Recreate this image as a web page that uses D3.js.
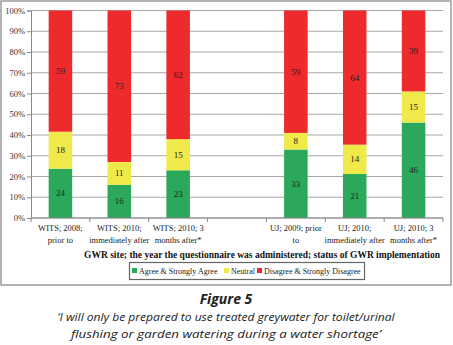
<!DOCTYPE html>
<html><head><meta charset="utf-8">
<script src="https://cdn.jsdelivr.net/npm/d3@7"></script>
<style>body{margin:0;background:#fff}svg{display:block}</style>
</head><body><svg id="c" width="453" height="345"></svg>
<script>
const categories = [
  ["WITS; 2008;", "prior to"],
  ["WITS; 2010;", "immediately after"],
  ["WITS; 2010; 3", "months after*"],
  ["", ""],
  ["UJ; 2009; prior", "to"],
  ["UJ; 2010;", "immediately after"],
  ["UJ; 2010; 3", "months after*"]
];
const agree    = [24, 16, 23, null, 33, 21, 46];
const neutral  = [18, 11, 15, null, 8, 14, 15];
const disagree = [59, 73, 62, null, 59, 64, 39];
const seriesNames = ["Agree & Strongly Agree", "Neutral", "Disagree & Strongly Disagree"];
const colors = ["#2ca85a", "#f0e94a", "#ee2a2d"];
const yTicks = [0,10,20,30,40,50,60,70,80,90,100];

const svg = d3.select("#c");
const serif = "'Liberation Serif','Times New Roman',serif";
const L = 31, R = 443, T = 10.5, B = 218;

svg.append("rect").attr("x",1).attr("y",1).attr("width",450).attr("height",284)
  .attr("fill","none").attr("stroke","#9a9a9a").attr("stroke-width",1.5);

const x = d3.scaleBand().domain(d3.range(categories.length)).range([L,R]).paddingInner(0).paddingOuter(0);
const y = d3.scaleLinear().domain([0,100]).range([B,T]);

// gridlines
svg.append("g").selectAll("line").data(yTicks).join("line")
  .attr("x1",L).attr("x2",R).attr("y1",d=>y(d)).attr("y2",d=>y(d))
  .attr("stroke","#a8a8a8").attr("stroke-width",1.2);

// y axis
const ya = svg.append("g").attr("transform",`translate(${L},0)`)
  .call(d3.axisLeft(y).tickValues(yTicks).tickFormat(d=>d+"%").tickSize(4).tickPadding(2));
ya.select(".domain").attr("stroke","#8a8a8a");
ya.selectAll(".tick line").attr("stroke","#8a8a8a");
ya.selectAll("text").attr("font-family",serif).attr("font-size",8.5).attr("fill","#333");

// stacked bars
const rows = categories.map((c,i)=>({i, agree:agree[i], neutral:neutral[i], disagree:disagree[i]}));
const keys = ["agree","neutral","disagree"];
const stack = d3.stack().keys(keys).offset(d3.stackOffsetExpand)(rows.filter(r=>r.agree!==null));
const bw = x.bandwidth()*0.4;
stack.forEach((s,k)=>{
  const g = svg.append("g");
  g.selectAll("rect").data(s).join("rect")
    .attr("x",d=>x(d.data.i)+x.bandwidth()/2-bw/2).attr("width",bw)
    .attr("y",d=>y(d[1]*100)).attr("height",d=>y(d[0]*100)-y(d[1]*100))
    .attr("fill",colors[k]);
  g.selectAll("text").data(s).join("text")
    .attr("x",d=>x(d.data.i)+x.bandwidth()/2)
    .attr("y",d=>y((d[0]+d[1])/2*100)+3)
    .attr("text-anchor","middle").attr("font-family",serif).attr("font-size",9).attr("fill","#222")
    .text(d=>d.data[keys[k]]);
});

// x axis
svg.append("line").attr("x1",L).attr("x2",R).attr("y1",B).attr("y2",B).attr("stroke","#8a8a8a");
svg.append("g").selectAll("line").data(d3.range(categories.length+1)).join("line")
  .attr("x1",i=>L+i*x.step()).attr("x2",i=>L+i*x.step()).attr("y1",B).attr("y2",B+4)
  .attr("stroke","#8a8a8a");
const cl = svg.append("g");
categories.forEach((c,i)=>{
  c.forEach((line,j)=>{
    cl.append("text").attr("x",x(i)+x.bandwidth()/2).attr("y",231+j*12)
      .attr("text-anchor","middle").attr("font-family",serif).attr("font-size",8.5).attr("fill","#222")
      .text(line);
  });
});

svg.append("text").attr("x",262).attr("y",258).attr("text-anchor","middle")
  .attr("font-family",serif).attr("font-size",9.5).attr("font-weight","bold").attr("fill","#111")
  .text("GWR site; the year the questionnaire was administered; status of GWR implementation");

// legend
svg.append("rect").attr("x",129.5).attr("y",262.5).attr("width",235).attr("height",17)
  .attr("fill","#fff").attr("stroke","#666").attr("stroke-width",1.2);
const legX = [132, 224, 257];
seriesNames.forEach((n,k)=>{
  svg.append("rect").attr("x",legX[k]).attr("y",268).attr("width",5).attr("height",5).attr("fill",colors[k]);
  svg.append("text").attr("x",legX[k]+7).attr("y",273.5).attr("font-family",serif).attr("font-size",8)
    .attr("fill","#222").text(n);
});

// caption
const sans = "'Open Sans','Noto Sans',sans-serif";
svg.append("text").attr("x",226).attr("y",304).attr("text-anchor","middle")
  .attr("font-family",sans).attr("font-size",14).attr("font-style","italic").attr("font-weight","bold")
  .attr("fill","#222").text("Figure 5");
svg.append("text").attr("x",226).attr("y",321).attr("text-anchor","middle")
  .attr("font-family",sans).attr("font-size",11.5).attr("font-style","italic").attr("fill","#222")
  .attr("textLength",337).attr("lengthAdjust","spacingAndGlyphs")
  .text("\u2018I will only be prepared to use treated greywater for toilet/urinal");
svg.append("text").attr("x",226).attr("y",338).attr("text-anchor","middle")
  .attr("font-family",sans).attr("font-size",11.5).attr("font-style","italic").attr("fill","#222")
  .attr("textLength",310).attr("lengthAdjust","spacingAndGlyphs")
  .text("flushing or garden watering during a water shortage\u2019");
</script></body></html>
